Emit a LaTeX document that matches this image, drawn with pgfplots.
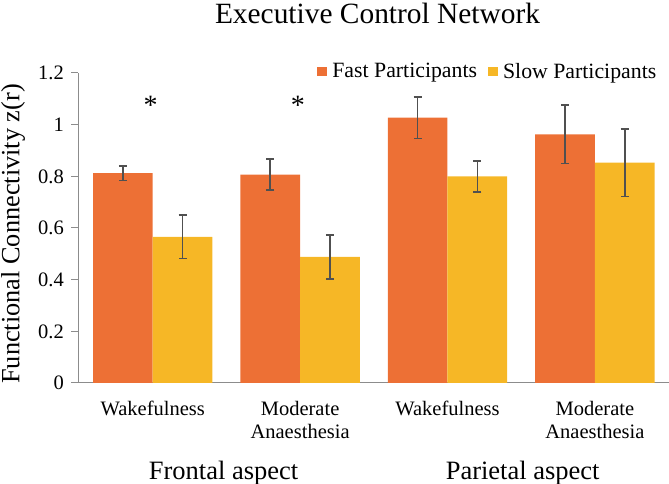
\documentclass[border=0pt]{standalone}
\usepackage{fontspec}
\setmainfont{Liberation Serif}
\usepackage{pgfplots}
\pgfplotsset{compat=1.18}
\definecolor{fastc}{HTML}{ED7035}
\definecolor{slowc}{HTML}{F6B726}
\definecolor{errc}{HTML}{505050}
\definecolor{axc}{HTML}{8C8C8C}
\begin{document}
\begin{tikzpicture}
\begin{axis}[
  at={(0,0)}, anchor=south west, scale only axis,
  width=591pt, height=310pt,
  xmin=-0.505, xmax=3.505, ymin=0, ymax=1.2,
  ybar=0pt, bar width=0.405,
  axis x line*=bottom, axis y line*=left,
  axis line style={draw=axc, line width=1pt},
  xtick={0,1,2,3},
  xticklabels={Wakefulness,{Moderate\\Anaesthesia},Wakefulness,{Moderate\\Anaesthesia}},
  x tick style={draw=none},
  xticklabel style={font=\fontsize{20.5}{23.4}\selectfont, align=center, anchor=north, inner sep=0pt, yshift=-11pt},
  ytick={0,0.2,0.4,0.6,0.8,1,1.2},
  y tick style={draw=axc, line width=1pt},
  tick align=outside, major tick length=7pt,
  yticklabel style={font=\fontsize{20.5}{21}\selectfont, xshift=-4pt},
  /pgf/number format/assume math mode=true,
  clip=false,
  legend style={draw=none, fill=none, at={(axis description cs:0.980,1.036)}, anchor=north east,
    font=\fontsize{21.8}{24}\selectfont, inner sep=0pt,
    nodes={inner sep=1pt},
    /tikz/every odd column/.append style={column sep=4.5pt},
    /tikz/every even column/.append style={column sep=10pt}},
  legend columns=2,
]
\addplot[fill=fastc, draw=none,
  legend image code/.code={\fill[fastc] (0pt,-4.5pt) rectangle (9.5pt,4.5pt);},
  error bars/y dir=both, error bars/y explicit,
  error bars/error bar style={draw=errc, line width=1.6pt},
  error bars/error mark options={draw=errc, line width=1.6pt, mark size=4pt, rotate=90}]
  table[x=x, y=y, y error=e] {
x y e
0 0.812 0.028
1 0.807 0.061
2 1.027 0.081
3 0.962 0.113
};
\addlegendentry{Fast Participants}
\addplot[fill=slowc, draw=none,
  legend image code/.code={\fill[slowc] (0pt,-4.5pt) rectangle (9.5pt,4.5pt);},
  error bars/y dir=both, error bars/y explicit,
  error bars/error bar style={draw=errc, line width=1.6pt},
  error bars/error mark options={draw=errc, line width=1.6pt, mark size=4pt, rotate=90}]
  table[x=x, y=y, y error=e] {
x y e
0 0.566 0.084
1 0.488 0.085
2 0.800 0.060
3 0.853 0.131
};
\addlegendentry{Slow Participants}
\node[font=\fontsize{28}{28}\selectfont, anchor=base, inner sep=0pt] at (axis cs:-0.015,1.040) {*};
\node[font=\fontsize{28}{28}\selectfont, anchor=base, inner sep=0pt] at (axis cs:0.985,1.040) {*};
\node[font=\fontsize{26.5}{30}\selectfont, anchor=base, inner sep=0pt, yshift=-96pt] at (axis cs:0.481,0) {Frontal aspect};
\node[font=\fontsize{26.5}{30}\selectfont, anchor=base, inner sep=0pt, yshift=-96pt] at (axis cs:2.51,0) {Parietal aspect};
\end{axis}
\node[font=\fontsize{29.4}{30}\selectfont, anchor=base, inner sep=0pt] at (299.2pt,359.8pt) {Executive Control Network};
\node[rotate=90, anchor=base, inner sep=0pt, font=\fontsize{26.3}{28}\selectfont] at (-59pt,149pt) {Functional Connectivity z(r)};
\pgfresetboundingbox
\path[use as bounding box] (-78.3pt,-101pt) rectangle (590.7pt,383pt);
\end{tikzpicture}
\end{document}
